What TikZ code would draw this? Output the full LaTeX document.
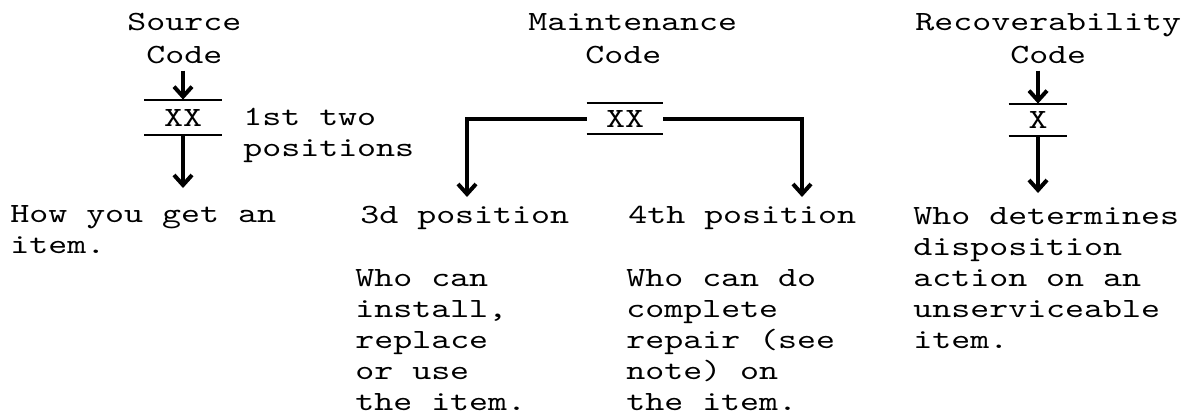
\documentclass[tikz,border=0pt]{standalone}
\usepackage{fontspec}
\setmonofont{lmmono10-regular.otf}[FakeStretch=1.3]
\usetikzlibrary{arrows.meta}

\begin{document}
\begin{tikzpicture}[x=0.5pt,y=-0.5pt,>={Straight Barb[length=5pt,width=9pt]},
        every node/.style={inner sep=0pt,font=\ttfamily\fontsize{13.9}{15.5}\selectfont},
        title/.style={align=left,anchor=base west,inner ysep=3.5pt,
            font=\ttfamily\fontsize{13.9}{16.5}\selectfont},
        body/.style={align=left,anchor=base west},
        flow/.style={->,line width=2pt},
        rule/.style={line width=1pt}]
    \useasboundingbox (0,0) rectangle (1181,419);
    % base anchors sit on the last line
    \node[title] (srctitle) at (127,63) {Source\\~Code};
    \node[title] (mnttitle) at (528,63) {Maintenance\\~~~Code};
    \node[title] (rectitle) at (915,63) {Recoverability\\~~~~~Code};
    \node[minimum width=38.5pt,minimum height=17.5pt] (srcbox) at (183,117.5) {XX};
    \node[minimum width=38pt,minimum height=15.5pt] (mntbox) at (625,118.5) {XX};
    \node[minimum width=29pt,minimum height=16pt] (recbox) at (1038,120) {X};
    \foreach \b in {srcbox,mntbox,recbox}
        \draw[rule] (\b.north west) -- (\b.north east) (\b.south west) -- (\b.south east);
    \node[body] (srcpos) at (243,156) {1st two\\positions};
    \node[body] (srchow) at (10,253) {How you get an\\item.};
    \node[body] (mnt3d) at (360,223) {3d position};
    \node[body] (mnt3dtext) at (355,410) {Who can\\install,\\replace\\or use\\the item.};
    \node[body] (mnt4th) at (628,223) {4th position};
    \node[body] (mnt4thtext) at (626,410) {Who can do\\complete\\repair (see\\note) on\\the item.};
    \node[body] (recwho) at (913,348) {Who determines\\disposition\\action on an\\unserviceable\\item.};
    \coordinate (srcend) at (183,188);
    \coordinate (mntleft) at (467,197);
    \coordinate (mntright) at (802,197);
    \coordinate (recend) at (1038,193);
    \draw[flow] (srcbox.north |- srctitle.south) -- (srcbox.north);
    \draw[flow] (srcbox.south) -- (srcend);
    \draw[flow] (mntbox.west) -| (mntleft);
    \draw[flow] (mntbox.east) -| (mntright);
    \draw[flow] (recbox.north |- rectitle.south) -- (recbox.north);
    \draw[flow] (recbox.south) -- (recend);
\end{tikzpicture}
\end{document}
